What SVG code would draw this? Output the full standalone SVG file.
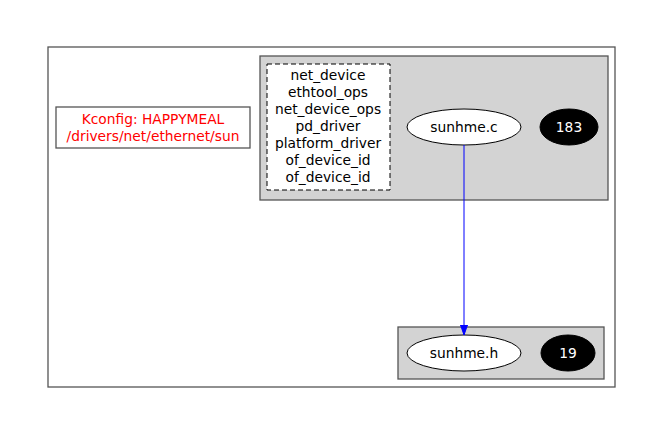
<svg xmlns="http://www.w3.org/2000/svg" width="664" height="436" viewBox="0 0 664 436">
<style>
text{font-family:"DejaVu Sans",sans-serif;font-size:13.8px;text-anchor:middle}
.cl{fill:#d3d3d3;stroke:#555;stroke-width:1.3}
.w{fill:#fff;stroke:#000;stroke-width:1}
.b{fill:#000;stroke:#000}
</style>
<defs><marker id="ah" viewBox="0 0 10 10" refX="10" refY="5" markerWidth="10" markerHeight="10" markerUnits="userSpaceOnUse" orient="auto"><path d="M0,1.5L10,5L0,8.5z" fill="#0000ff" stroke="#0000ff"/></marker></defs>
<rect width="664" height="436" fill="#fff"/>
<g id="outer"><rect x="48" y="47" width="567" height="340" fill="none" stroke="#555" stroke-width="1.3"/></g>
<g id="kconfig"><rect x="56" y="107" width="194" height="41" fill="#fff" stroke="#555" stroke-width="1.3"/>
<text x="153" y="124" fill="#ff0000">Kconfig: HAPPYMEAL</text>
<text x="153" y="141" fill="#ff0000">/drivers/net/ethernet/sun</text></g>
<g id="cluster_c"><rect class="cl" x="260" y="56" width="348" height="144"/></g>
<g id="structs"><rect x="267" y="64" width="123" height="126" fill="#fff" stroke="#000" stroke-dasharray="5,3"/>
<text x="328" y="80">net_device</text>
<text x="328" y="97">ethtool_ops</text>
<text x="328" y="114">net_device_ops</text>
<text x="328" y="131">pd_driver</text>
<text x="328" y="148">platform_driver</text>
<text x="328" y="165">of_device_id</text>
<text x="328" y="182">of_device_id</text></g>
<g id="sunhme_c"><ellipse class="w" cx="464" cy="127" rx="57" ry="18"/><text x="464" y="132">sunhme.c</text></g>
<g id="n183"><ellipse class="b" cx="569" cy="127" rx="29" ry="18"/><text x="569" y="132" fill="#fff">183</text></g>
<g id="cluster_h"><rect class="cl" x="398" y="327" width="206" height="52"/></g>
<g id="sunhme_h"><ellipse class="w" cx="464" cy="353" rx="57" ry="18"/><text x="464" y="358">sunhme.h</text></g>
<g id="n19"><ellipse class="b" cx="568" cy="353" rx="27" ry="18"/><text x="568" y="358" fill="#fff">19</text></g>
<g id="edges"><line x1="464" y1="145" x2="464" y2="335" stroke="#0000ff" stroke-width="1" marker-end="url(#ah)"/></g>
</svg>
